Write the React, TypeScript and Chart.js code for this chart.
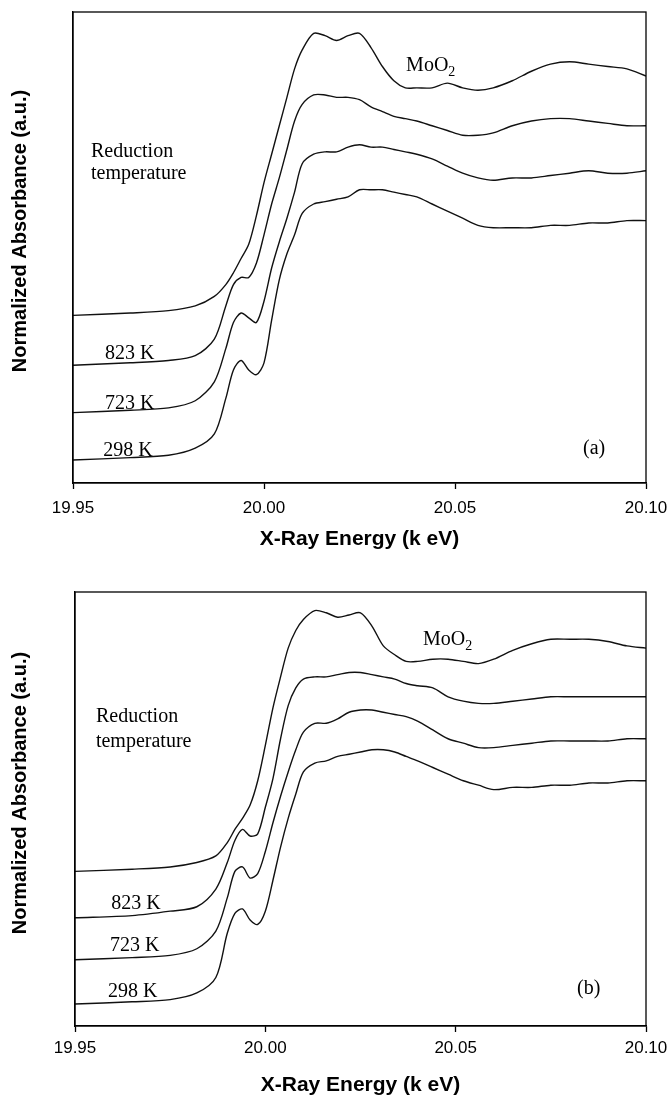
import React, { useEffect, useRef } from "react";
import { Chart, registerables } from "chart.js";

Chart.register(...registerables);

// ---------- data ----------
const ENERGY_KEV = [
  19.95, 19.965, 19.975, 19.982, 19.987, 19.99, 19.992, 19.994, 19.996, 19.998,
  20.0, 20.002, 20.004, 20.006, 20.008, 20.01, 20.013, 20.016, 20.019, 20.022,
  20.025, 20.028, 20.031, 20.034, 20.037, 20.04, 20.044, 20.048, 20.052, 20.056,
  20.06, 20.065, 20.07, 20.075, 20.08, 20.085, 20.09, 20.095, 20.1,
];
const X_TICKS = [19.95, 20.0, 20.05, 20.1];
const SERIES_NAMES = ["MoO2", "823 K", "723 K", "298 K"];
const STACK_OFFSETS = [0.6, 0.4, 0.2, 0.0];

// panel (a): normalized absorbance
const A_MOO2 = [
  0.01, 0.02, 0.03, 0.05, 0.09, 0.14, 0.19, 0.25, 0.31, 0.43,
  0.57, 0.69, 0.81, 0.93, 1.05, 1.13, 1.2, 1.19, 1.17, 1.19,
  1.2, 1.14, 1.06, 1.0, 0.97, 0.97, 0.97, 0.99, 0.97, 0.96,
  0.97, 1.0, 1.04, 1.07, 1.08, 1.07, 1.06, 1.05, 1.02,
];
const A_823K = [
  0.0, 0.01, 0.02, 0.04, 0.11, 0.25, 0.34, 0.37, 0.37, 0.43,
  0.55, 0.68, 0.79, 0.91, 1.03, 1.1, 1.14, 1.14, 1.13, 1.13,
  1.12, 1.09, 1.07, 1.05, 1.04, 1.03, 1.01, 0.99, 0.97, 0.97,
  0.98, 1.01, 1.03, 1.04, 1.04, 1.03, 1.02, 1.01, 1.01,
];
const A_723K = [
  0.0, 0.01, 0.02, 0.05, 0.13, 0.27, 0.38, 0.42, 0.4, 0.38,
  0.47, 0.61, 0.72, 0.82, 0.93, 1.05, 1.09, 1.1, 1.1, 1.12,
  1.13, 1.12, 1.12, 1.11, 1.1, 1.09, 1.07, 1.04, 1.01, 0.99,
  0.98, 0.99, 0.99, 1.0, 1.01, 1.02, 1.01, 1.01, 1.02,
];
const A_298K = [
  0.0, 0.01, 0.02, 0.05, 0.11, 0.26, 0.38, 0.42, 0.38, 0.36,
  0.41, 0.59, 0.76, 0.87, 0.95, 1.04, 1.08, 1.09, 1.1, 1.11,
  1.14, 1.14, 1.14, 1.13, 1.12, 1.11, 1.08, 1.05, 1.02, 0.99,
  0.98, 0.98, 0.98, 0.99, 0.99, 1.0, 1.0, 1.01, 1.01,
];

// panel (b): normalized absorbance
const B_MOO2 = [
  0.0, 0.01, 0.02, 0.04, 0.07, 0.13, 0.19, 0.24, 0.3, 0.41,
  0.57, 0.74, 0.88, 1.01, 1.09, 1.14, 1.18, 1.17, 1.15, 1.16,
  1.17, 1.11, 1.02, 0.98, 0.95, 0.95, 0.96, 0.96, 0.95, 0.94,
  0.96, 1.0, 1.03, 1.05, 1.05, 1.05, 1.04, 1.02, 1.01,
];
const B_823K = [
  -0.01, 0.0, 0.02, 0.04, 0.12, 0.24, 0.34, 0.39, 0.36, 0.37,
  0.49, 0.62, 0.8, 0.95, 1.03, 1.07, 1.08, 1.08, 1.09, 1.1,
  1.1, 1.09, 1.08, 1.07, 1.05, 1.04, 1.03, 0.99, 0.97, 0.96,
  0.96, 0.97, 0.98, 0.99, 0.99, 0.99, 0.99, 0.99, 0.99,
];
const B_723K = [
  0.0, 0.01, 0.02, 0.05, 0.13, 0.28, 0.4, 0.42, 0.37, 0.39,
  0.49, 0.62, 0.74, 0.85, 0.95, 1.03, 1.07, 1.07, 1.09, 1.12,
  1.13, 1.13, 1.12, 1.11, 1.1, 1.08, 1.04, 1.0, 0.98, 0.96,
  0.96, 0.97, 0.98, 0.99, 0.99, 0.99, 0.99, 1.0, 1.0,
];
const B_298K = [
  0.0, 0.01, 0.02, 0.05, 0.12, 0.32, 0.41, 0.43, 0.38, 0.36,
  0.42, 0.56, 0.71, 0.84, 0.95, 1.05, 1.09, 1.1, 1.12, 1.13,
  1.14, 1.15, 1.15, 1.14, 1.12, 1.1, 1.07, 1.04, 1.01, 0.99,
  0.97, 0.98, 0.98, 0.99, 0.99, 1.0, 1.0, 1.01, 1.01,
];

const X_TITLE = "X-Ray Energy (k eV)";
const Y_TITLE = "Normalized Absorbance (a.u.)";

type Note = { text: string; sub?: string; x: number; y: number };

const NOTES_A: Note[] = [
  { text: "Reduction", x: 19.9547, y: 1.278 },
  { text: "temperature", x: 19.9547, y: 1.185 },
  { text: "MoO", sub: "2", x: 20.0372, y: 1.641 },
  { text: "823 K", x: 19.9584, y: 0.426 },
  { text: "723 K", x: 19.9584, y: 0.215 },
  { text: "298 K", x: 19.9579, y: 0.017 },
  { text: "(a)", x: 20.0835, y: 0.025 },
];
const NOTES_B: Note[] = [
  { text: "Reduction", x: 19.9555, y: 1.276 },
  { text: "temperature", x: 19.9555, y: 1.163 },
  { text: "MoO", sub: "2", x: 20.0414, y: 1.624 },
  { text: "823 K", x: 19.9595, y: 0.43 },
  { text: "723 K", x: 19.9592, y: 0.24 },
  { text: "298 K", x: 19.9587, y: 0.032 },
  { text: "(b)", x: 20.0819, y: 0.045 },
];

interface PanelCfg {
  width: number;
  height: number;
  area: { left: number; top: number; right: number; bottom: number };
  yMin: number;
  yMax: number;
  series: number[][];
  notes: Note[];
  tickPad: number;
  titlePad: number;
  yTitleX: number;
  yTitleY: number;
}

const PANEL_A: PanelCfg = {
  width: 670,
  height: 560,
  area: { left: 73, top: 12, right: 646, bottom: 483 },
  yMin: -0.097,
  yMax: 1.89,
  series: [A_MOO2, A_823K, A_723K, A_298K],
  notes: NOTES_A,
  tickPad: 9,
  titlePad: 8,
  yTitleX: 20,
  yTitleY: 231,
};
const PANEL_B: PanelCfg = {
  width: 670,
  height: 538,
  area: { left: 75, top: 32, right: 646, bottom: 466 },
  yMin: -0.0995,
  yMax: 1.864,
  series: [B_MOO2, B_823K, B_723K, B_298K],
  notes: NOTES_B,
  tickPad: 6,
  titlePad: 0,
  yTitleX: 20,
  yTitleY: 233,
};

function Panel({ cfg }: { cfg: PanelCfg }) {
  const ref = useRef<HTMLCanvasElement | null>(null);

  useEffect(() => {
    if (!ref.current) return;
    const { area } = cfg;

    const decor = {
      id: "frameNotes",
      afterDatasetsDraw(chart: any) {
        const { ctx, chartArea: a, scales } = chart;
        ctx.save();
        ctx.strokeStyle = "#000";
        ctx.lineWidth = 1.3;
        ctx.strokeRect(a.left, a.top, a.right - a.left, a.bottom - a.top);
        ctx.fillStyle = "#000";
        ctx.textBaseline = "alphabetic";
        ctx.textAlign = "left";
        for (const n of cfg.notes) {
          const px = scales.x.getPixelForValue(n.x);
          const py = scales.y.getPixelForValue(n.y);
          ctx.font = '20px "Liberation Serif"';
          ctx.fillText(n.text, px, py);
          if (n.sub) {
            const w = ctx.measureText(n.text).width;
            ctx.font = '14px "Liberation Serif"';
            ctx.fillText(n.sub, px + w, py + 5);
          }
        }
        ctx.translate(cfg.yTitleX, cfg.yTitleY);
        ctx.rotate(-Math.PI / 2);
        ctx.font = 'bold 20px "Liberation Sans"';
        ctx.textAlign = "center";
        ctx.textBaseline = "middle";
        ctx.fillText(Y_TITLE, 0, 0);
        ctx.restore();
      },
    };

    const chart = new Chart(ref.current, {
      type: "line",
      data: {
        datasets: cfg.series.map((vals, i) => ({
          label: SERIES_NAMES[i],
          data: ENERGY_KEV.map((e, k) => ({ x: e, y: vals[k] + STACK_OFFSETS[i] })),
          borderColor: "#111",
          borderWidth: 1.4,
          pointRadius: 0,
          tension: 0.3,
          fill: false,
        })),
      },
      options: {
        responsive: false,
        animation: false,
        devicePixelRatio: 1,
        layout: {
          padding: {
            left: 0,
            top: area.top,
            right: cfg.width - area.right,
            bottom: 0,
          },
        },
        plugins: {
          legend: { display: false },
          tooltip: { enabled: false },
        },
        scales: {
          x: {
            type: "linear",
            min: 19.95,
            max: 20.1,
            afterBuildTicks: (s: any) => {
              s.ticks = X_TICKS.map((v) => ({ value: v }));
            },
            afterFit: (s: any) => {
              s.height = cfg.height - area.bottom;
              s.paddingLeft = 0;
              s.paddingRight = 0;
            },
            ticks: {
              color: "#000",
              font: { family: "Liberation Sans", size: 17 },
              padding: cfg.tickPad,
              maxRotation: 0,
              autoSkip: false,
              callback: (v: any) => Number(v).toFixed(2),
            },
            grid: {
              display: true,
              drawOnChartArea: false,
              drawTicks: true,
              tickLength: 6,
              tickColor: "#000",
              tickWidth: 1.3,
            },
            border: { display: true, color: "#000", width: 1.3 },
            title: {
              display: true,
              text: X_TITLE,
              color: "#000",
              font: { family: "Liberation Sans", size: 21, weight: "bold" },
              padding: { top: 0, bottom: cfg.titlePad },
            },
          },
          y: {
            type: "linear",
            min: cfg.yMin,
            max: cfg.yMax,
            afterFit: (s: any) => {
              s.width = area.left;
              s.paddingTop = 0;
              s.paddingBottom = 0;
            },
            ticks: { display: false },
            grid: { display: false },
            border: { display: true, color: "#000", width: 1.3 },
            title: { display: false },
          },
        },
      },
      plugins: [decor],
    } as any);

    return () => chart.destroy();
  }, [cfg]);

  return (
    <canvas
      ref={ref}
      width={cfg.width}
      height={cfg.height}
      style={{ display: "block", width: cfg.width, height: cfg.height }}
    />
  );
}

export default function App() {
  return (
    <div
      style={{
        position: "absolute",
        left: 0,
        top: 0,
        width: 670,
        height: 1098,
        background: "#fff",
        overflow: "hidden",
      }}
    >
      <Panel cfg={PANEL_A} />
      <Panel cfg={PANEL_B} />
    </div>
  );
}
